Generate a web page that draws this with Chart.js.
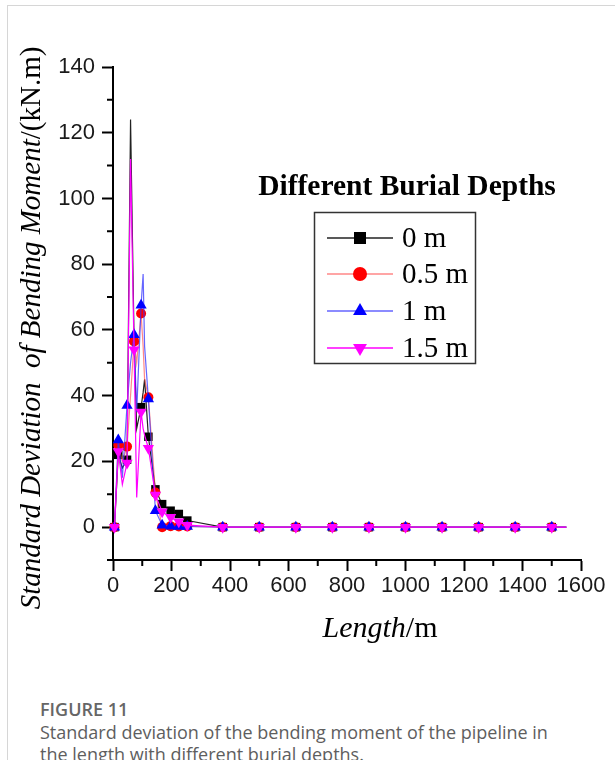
<!DOCTYPE html>
<html>
<head>
<meta charset="utf-8">
<script src="https://cdn.jsdelivr.net/npm/chart.js@4.4.1/dist/chart.umd.min.js"></script>
<style>
  body { margin: 0; background: #fff; width: 615px; height: 760px; overflow: hidden; position: relative; }
  .card { position: absolute; left: 7px; top: 5px; right: 0; bottom: 0; border-left: 1px solid #d6d6d6; border-top: 1px solid #d6d6d6; }
  #chart { position: absolute; left: 0; top: 0; }
  .caption { position: absolute; left: 40px; top: 698px; font-family: "Open Sans", "Noto Sans", sans-serif; color: #5e5e5e; font-size: 18px; line-height: 22.5px; white-space: nowrap; }
  .caption b { font-weight: 600; color: #666; }
</style>
</head>
<body>
<div class="card"></div>
<canvas id="chart" width="615" height="680"></canvas>
<div class="caption"><b>FIGURE 11</b><br>Standard deviation of the bending moment of the pipeline in<br>the length with different burial depths.</div>
<script>
// positions along the pipe (m)
const lengths = [5, 18, 32, 48, 60, 72, 81, 96, 103, 108, 121, 145, 168, 197, 225, 254,
  375, 500, 625, 750, 875, 1000, 1125, 1250, 1375, 1500, 1550];
// points the original plot passes through without a marker
const unmarked = [32, 60, 81, 103, 108, 1550];

// standard deviation of bending moment (kN.m) per burial depth
const depth0 = [0, 22, 18, 20.5, 124, 57, 30, 36.5, 41, 45, 27.5, 11.5, 7, 5, 4, 2,
  0, 0, 0, 0, 0, 0, 0, 0, 0, 0, 0];
const depth05 = [0, 25, 20, 24.5, 40, 56.5, 50, 65, 55, 45, 39.5, 10.5, 0, 0.3, 0.2, 0.2,
  0, 0, 0, 0, 0, 0, 0, 0, 0, 0, 0];
const depth1 = [0, 26.5, 15, 37, 50, 58.5, 35, 67.5, 77, 55, 39, 5, 0.6, 0.3, 0.2, 0.2,
  0, 0, 0, 0, 0, 0, 0, 0, 0, 0, 0];
const depth15 = [0, 23, 13, 19.5, 112, 54, 9, 35, 30, 28, 24, 9.8, 4.7, 3, 1.6, 0.6,
  0, 0, 0, 0, 0, 0, 0, 0, 0, 0, 0];

const seriesNames = ['0 m', '0.5 m', '1 m', '1.5 m'];
const seriesValues = [depth0, depth05, depth1, depth15];

const markerColors = ['#000000', '#ff0000', '#0000ff', '#ff00ff'];
const lineColors = ['#222222', 'rgba(255,70,70,0.65)', 'rgba(50,50,255,0.75)', '#ff00ff'];
const markerStyles = ['rect', 'circle', 'triangle', 'triangle'];
const markerRotations = [0, 0, 0, 180];
const markerRadius = [6, 5, 6.5, 6.5];

const xMinorTicks = [100, 300, 500, 700, 900, 1100, 1300, 1500];
const yMinorTicks = [-10, 10, 30, 50, 70, 90, 110, 130];

const serif = '"Liberation Serif", "Times New Roman", serif';
const sans = '"Liberation Sans", Arial, sans-serif';

const datasets = seriesNames.map((name, s) => ({
  label: name,
  data: lengths.map((x, i) => ({ x: x, y: seriesValues[s][i] })),
  borderColor: lineColors[s],
  borderWidth: 1.2,
  backgroundColor: markerColors[s],
  pointBackgroundColor: markerColors[s],
  pointBorderColor: markerColors[s],
  pointBorderWidth: 0,
  pointStyle: markerStyles[s],
  rotation: markerRotations[s],
  pointRadius: ctx => unmarked.includes(lengths[ctx.dataIndex]) ? 0 : markerRadius[s],
  tension: 0,
  clip: false,
  order: 4 - s
}));

const extras = {
  id: 'extras',
  afterDraw(chart) {
    const ctx = chart.ctx;
    const xs = chart.scales.x, ys = chart.scales.y;
    ctx.save();
    // minor ticks
    ctx.strokeStyle = '#000';
    ctx.lineWidth = 2;
    ctx.beginPath();
    yMinorTicks.forEach(v => {
      const py = ys.getPixelForValue(v);
      ctx.moveTo(xs.left - 6, py);
      ctx.lineTo(xs.left, py);
    });
    xMinorTicks.forEach(v => {
      const px = xs.getPixelForValue(v);
      ctx.moveTo(px, ys.bottom);
      ctx.lineTo(px, ys.bottom + 6);
    });
    ctx.stroke();

    // axis titles, italic + upright units
    ctx.fillStyle = '#000';
    ctx.textBaseline = 'alphabetic';
    ctx.textAlign = 'left';
    const drawMixed = (parts, cx, cy, rotate) => {
      ctx.save();
      ctx.translate(cx, cy);
      if (rotate) ctx.rotate(-Math.PI / 2);
      let total = 0;
      parts.forEach(p => { ctx.font = p[1]; total += ctx.measureText(p[0]).width; });
      let pos = -total / 2;
      parts.forEach(p => {
        ctx.font = p[1];
        ctx.fillText(p[0], pos, 0);
        pos += ctx.measureText(p[0]).width;
      });
      ctx.restore();
    };
    drawMixed([
      ['Standard Deviation  of Bending Moment', 'italic 29px ' + serif],
      ['/(kN.m)', '29px ' + serif]
    ], 40, 328, true);
    drawMixed([
      ['Length', 'italic 30px ' + serif],
      ['/m', '30px ' + serif]
    ], 380, 637, false);

    // legend
    ctx.textAlign = 'center';
    ctx.font = 'bold 29.5px ' + serif;
    ctx.fillText('Different Burial Depths', 407, 195);
    ctx.strokeStyle = '#333';
    ctx.lineWidth = 1.5;
    ctx.strokeRect(314.5, 212.5, 161, 151);
    const rowY = [238, 274, 311, 348];
    const legendRadius = [8.5, 7, 8, 8];
    ctx.textAlign = 'left';
    ctx.textBaseline = 'middle';
    seriesNames.forEach((name, s) => {
      const y = rowY[s];
      ctx.strokeStyle = lineColors[s];
      ctx.lineWidth = 1.5;
      ctx.beginPath();
      ctx.moveTo(327, y);
      ctx.lineTo(393, y);
      ctx.stroke();
      ctx.fillStyle = markerColors[s];
      Chart.helpers.drawPoint(ctx, {
        pointStyle: markerStyles[s],
        rotation: markerRotations[s],
        radius: legendRadius[s],
        borderWidth: 0
      }, 360, y);
      ctx.fillStyle = '#000';
      ctx.font = '29px ' + serif;
      ctx.fillText(name, 402, y + 1);
    });
    ctx.restore();
  }
};

new Chart(document.getElementById('chart'), {
  type: 'line',
  data: { datasets },
  options: {
    responsive: false,
    animation: false,
    layout: { padding: { left: 0, top: 67, right: 34, bottom: 0 } },
    plugins: { legend: { display: false }, tooltip: { enabled: false } },
    scales: {
      x: {
        type: 'linear',
        min: 0,
        max: 1600,
        ticks: { stepSize: 200, color: '#1a1a1a', font: { family: sans, size: 22 }, padding: 2, maxRotation: 0, autoSkip: false, callback: v => String(v) },
        grid: { drawOnChartArea: false, drawTicks: true, tickLength: 11, tickWidth: 2, tickColor: '#000' },
        border: { display: true, color: '#000', width: 2 },
        afterFit: s => { s.height = 120; }
      },
      y: {
        min: -10,
        max: 140,
        ticks: { stepSize: 20, includeBounds: false, color: '#1a1a1a', font: { family: sans, size: 22 }, padding: 7, callback: v => String(v) },
        grid: { drawOnChartArea: false, drawTicks: true, tickLength: 11, tickWidth: 2, tickColor: '#000' },
        border: { display: true, color: '#000', width: 2 },
        afterFit: s => { s.width = 113; }
      }
    }
  },
  plugins: [extras]
});
</script>
</body>
</html>
